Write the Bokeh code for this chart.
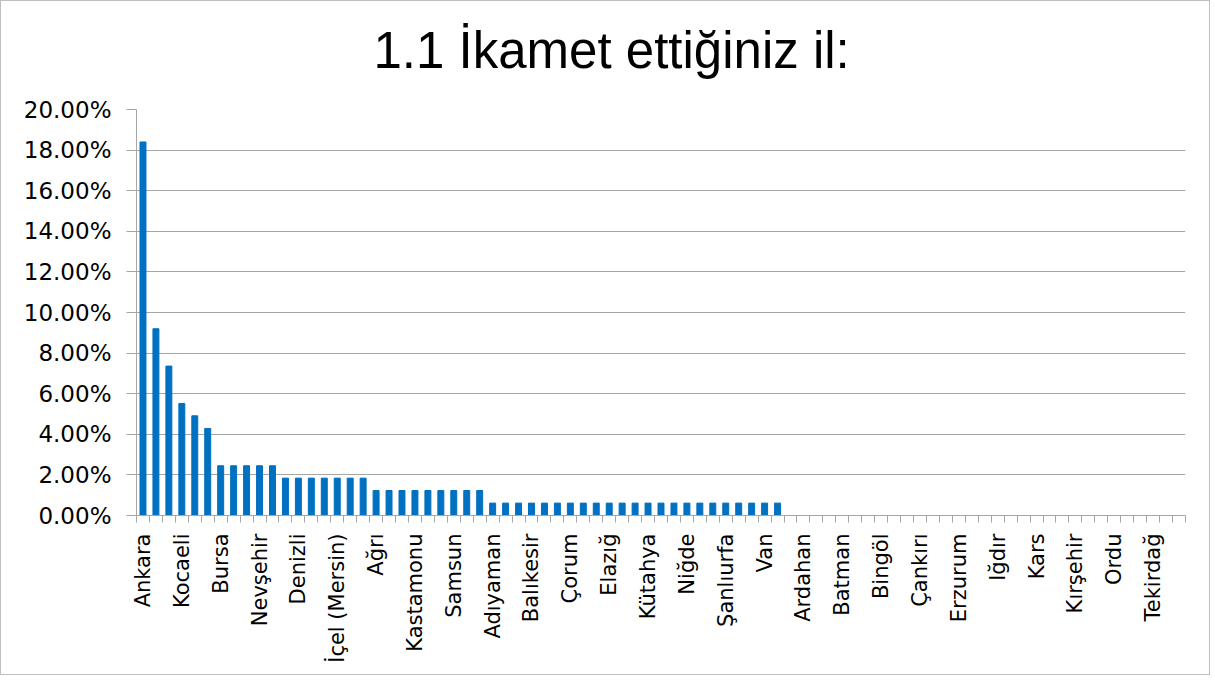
import math
from bokeh.plotting import figure
from bokeh.models import Range1d, FixedTicker, PrintfTickFormatter, Title
from bokeh.embed import file_html
from bokeh.resources import INLINE

# --- data (percent of respondents) ---
provinces = [
    "Ankara", "İstanbul", "İzmir", "Kocaeli", "Konya", "Yalova",
    "Bursa", "Eskişehir", "Kayseri", "Nevşehir", "Sakarya",
    "Antalya", "Denizli", "Gaziantep", "Isparta", "İçel (Mersin)", "Kahramanmaraş", "Şırnak",
    "Ağrı", "Aksaray", "Aydın", "Kastamonu", "Malatya", "Mardin", "Samsun", "Sivas", "Trabzon",
    "Adıyaman", "Afyonkarahisar", "Amasya", "Balıkesir", "Bolu", "Burdur", "Çorum", "Düzce",
    "Edirne", "Elazığ", "Giresun", "Hatay", "Kütahya", "Manisa", "Muğla", "Niğde", "Osmaniye",
    "Rize", "Şanlıurfa", "Tokat", "Uşak", "Van", "Yozgat",
    "Adana", "Ardahan", "Artvin", "Bartın", "Batman", "Bayburt", "Bilecik", "Bingöl", "Bitlis",
    "Çanakkale", "Çankırı", "Diyarbakır", "Erzincan", "Erzurum", "Gümüşhane", "Hakkari", "Iğdır",
    "Karabük", "Karaman", "Kars", "Kırıkkale", "Kırklareli", "Kırşehir", "Kilis", "Muş", "Ordu",
    "Siirt", "Sinop", "Tekirdağ", "Tunceli", "Zonguldak",
]
percent = [
    18.40, 9.20, 7.36, 5.52, 4.91, 4.29,
    2.45, 2.45, 2.45, 2.45, 2.45,
    1.84, 1.84, 1.84, 1.84, 1.84, 1.84, 1.84,
    1.23, 1.23, 1.23, 1.23, 1.23, 1.23, 1.23, 1.23, 1.23,
    0.61, 0.61, 0.61, 0.61, 0.61, 0.61, 0.61, 0.61,
    0.61, 0.61, 0.61, 0.61, 0.61, 0.61, 0.61, 0.61, 0.61,
    0.61, 0.61, 0.61, 0.61, 0.61, 0.61,
    0, 0, 0, 0, 0, 0, 0, 0, 0,
    0, 0, 0, 0, 0, 0, 0, 0,
    0, 0, 0, 0, 0, 0, 0, 0, 0,
    0, 0, 0, 0, 0,
]
y_ticks = [0, 2, 4, 6, 8, 10, 12, 14, 16, 18, 20]
title_text = "1.1 İkamet ettiğiniz il:"
label_every = 3

assert len(provinces) == len(percent) == len(set(provinces))
n = len(provinces)
centers = [i + 0.5 for i in range(n)]

GRID = "#A6A6A6"
FONT = "DejaVu Sans"

p = figure(
    width=1210, height=675,
    output_backend="svg", toolbar_location=None,
    x_range=Range1d(0, n), y_range=Range1d(0, 20),
    min_border_left=135, min_border_right=26,
    min_border_top=108, min_border_bottom=161,
)
# thin blank spacer between the plot area and the title, then the title itself
p.add_layout(Title(text=" ", text_font_size="1px", standoff=21), "above")
p.add_layout(Title(text=title_text, text_font="Liberation Sans",
                   text_font_size="51px", text_font_style="normal",
                   text_color="#000000", align="left", offset=237,
                   vertical_align="top", standoff=10), "above")
p.outline_line_color = None
p.background_fill_color = "white"
p.border_fill_color = "white"
p.styles = {"border": "1px solid #BFBFBF"}

p.vbar(x=centers, top=percent, width=0.46, color="#0070C0")

# x axis: labels at every third category, ticks at category boundaries
xa = p.xaxis[0]
labeled = centers[::label_every]
xa.ticker = FixedTicker(ticks=labeled, minor_ticks=list(range(n + 1)))
xa.major_label_overrides = {c: provinces[i * label_every] for i, c in enumerate(labeled)}
xa.major_label_orientation = math.pi / 2
xa.major_label_text_font = FONT
xa.major_label_text_font_size = "21px"
xa.major_label_text_color = "#000000"
xa.major_label_standoff = 11
xa.major_tick_out = 0
xa.major_tick_in = 0
xa.minor_tick_out = 7
xa.minor_tick_in = 0
xa.minor_tick_line_color = GRID
xa.axis_line_color = GRID

ya = p.yaxis[0]
ya.ticker = FixedTicker(ticks=y_ticks)
ya.formatter = PrintfTickFormatter(format="%.2f%%")
ya.major_label_text_font = FONT
ya.major_label_text_font_size = "23px"
ya.major_label_text_color = "#000000"
ya.major_label_standoff = 15
ya.major_tick_out = 10
ya.major_tick_in = 0
ya.major_tick_line_color = GRID
ya.minor_tick_line_color = None
ya.axis_line_color = GRID

p.xgrid.grid_line_color = None
p.ygrid.grid_line_color = GRID
p.ygrid.grid_line_width = 1

open("out.html", "w").write(file_html(p, INLINE))
